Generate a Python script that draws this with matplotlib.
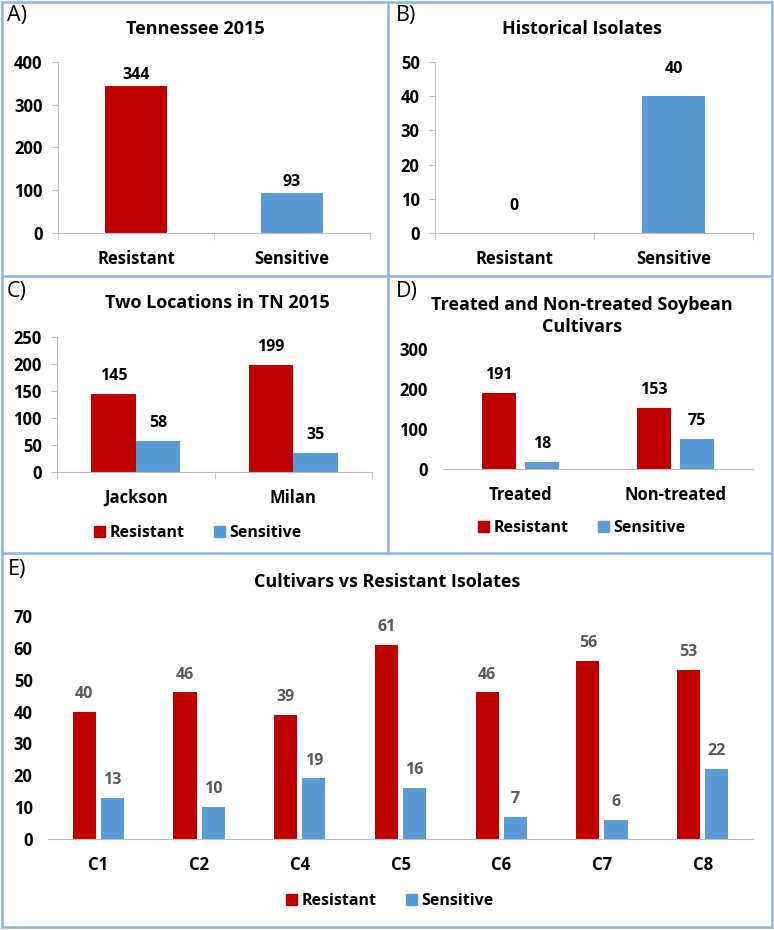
import numpy as np
import matplotlib
matplotlib.use("Agg")
import matplotlib.pyplot as plt
from matplotlib.lines import Line2D
from matplotlib.patches import Patch

plt.rcParams["font.family"] = ["Open Sans", "DejaVu Sans"]

# data
a_cats = ["Resistant", "Sensitive"]
a_vals = [344, 93]

b_cats = ["Resistant", "Sensitive"]
b_vals = [0, 40]

c_cats = ["Jackson", "Milan"]
c_res = [145, 199]
c_sen = [58, 35]

d_cats = ["Treated", "Non-treated"]
d_res = [191, 153]
d_sen = [18, 75]

e_cats = ["C1", "C2", "C4", "C5", "C6", "C7", "C8"]
e_res = [40, 46, 39, 61, 46, 56, 53]
e_sen = [13, 10, 19, 16, 7, 6, 22]

RED = "#C00000"
BLUE = "#5B9BD5"
AXC = "#BFBFBF"
BORDER = "#8EB4E3"
FS = 11.5

W, H = 774, 930
fig = plt.figure(figsize=(W / 100, H / 100), dpi=100)


def rect(l, r, t, b):
    return [l / W, 1 - b / H, (r - l) / W, (b - t) / H]


def fx(x):
    return x / W


def fy(y):
    return 1 - y / H


def style(ax, ylim, step, yaxis=True, xticks=True):
    ax.set_ylim(0, ylim)
    ax.set_yticks(np.arange(0, ylim + 1, step))
    for s in ["top", "right"]:
        ax.spines[s].set_visible(False)
    ax.spines["bottom"].set_color(AXC)
    ax.spines["left"].set_color(AXC)
    ax.spines["left"].set_visible(yaxis)
    ax.tick_params(axis="y", length=4 if yaxis else 0, color=AXC, pad=7 if yaxis else 11)
    ax.tick_params(axis="x", length=0, pad=12)
    for lab in ax.get_yticklabels() + ax.get_xticklabels():
        lab.set_fontweight("bold")
        lab.set_fontsize(12)
    if xticks:
        n = len(ax.get_xticks())
        ax.set_xticks(np.arange(-0.5, n, 1.0), minor=True)
        ax.tick_params(axis="x", which="minor", length=5, color=AXC)


def labels(ax, bars, color="black", off=4):
    for b in bars:
        ax.annotate(f"{int(b.get_height())}", (b.get_x() + b.get_width() / 2, b.get_height()),
                    xytext=(0, off), textcoords="offset points", ha="center", va="bottom",
                    fontsize=FS, fontweight="bold", color=color)


def legend(x, y):
    h = [Patch(color=RED), Patch(color=BLUE)]
    fig.legend(h, ["Resistant", "Sensitive"], loc="center", bbox_to_anchor=(fx(x), fy(y)),
               ncol=2, frameon=False, handlelength=0.7, handleheight=0.7, handletextpad=0.3,
               columnspacing=1.8, prop={"size": FS, "weight": "bold"})


def title(x, y, s):
    fig.text(fx(x), fy(y), s, ha="center", va="center", fontsize=13, fontweight="bold",
             linespacing=1.25)


# A
ax = fig.add_axes(rect(58, 370, 62, 233))
x = np.arange(len(a_cats))
bars = ax.bar(x, a_vals, 0.4, color=[RED, BLUE])
ax.set_xticks(x, a_cats)
ax.set_xlim(-0.5, 1.5)
style(ax, 400, 100)
labels(ax, bars, off=2)
title(195, 29, "Tennessee 2015")

# B
ax = fig.add_axes(rect(435, 753, 62, 233))
x = np.arange(len(b_cats))
bars = ax.bar(x, b_vals, 0.4, color=[RED, BLUE])
ax.set_xticks(x, b_cats)
ax.set_xlim(-0.5, 1.5)
style(ax, 50, 10)
labels(ax, bars, off=14)
title(582, 29, "Historical Isolates")

# C
ax = fig.add_axes(rect(57, 372, 337, 472))
x = np.arange(len(c_cats))
b1 = ax.bar(x - 0.1415, c_res, 0.283, color=RED)
b2 = ax.bar(x + 0.1415, c_sen, 0.283, color=BLUE)
ax.set_xticks(x, c_cats)
ax.set_xlim(-0.5, 1.5)
style(ax, 250, 50)
labels(ax, b1, off=7)
labels(ax, b2, off=7)
title(217, 303, "Two Locations in TN 2015")
legend(198, 533)

# D
ax = fig.add_axes(rect(443, 753, 349, 469))
x = np.arange(len(d_cats))
b1 = ax.bar(x - 0.14, d_res, 0.22, color=RED)
b2 = ax.bar(x + 0.14, d_sen, 0.22, color=BLUE)
ax.set_xticks(x, d_cats)
ax.set_xlim(-0.5, 1.5)
style(ax, 300, 100, yaxis=False, xticks=False)
labels(ax, b1, off=7)
labels(ax, b2, off=7)
title(582, 316, "Treated and Non-treated Soybean\nCultivars")
legend(582, 528)

# E
ax = fig.add_axes(rect(48, 753, 616, 839))
x = np.arange(len(e_cats))
b1 = ax.bar(x - 0.14, e_res, 0.23, color=RED)
b2 = ax.bar(x + 0.14, e_sen, 0.23, color=BLUE)
ax.set_xticks(x, e_cats)
ax.set_xlim(-0.5, len(e_cats) - 0.5)
style(ax, 70, 10, yaxis=False, xticks=False)
labels(ax, b1, color="#595959", off=7)
labels(ax, b2, color="#595959", off=7)
title(387, 582, "Cultivars vs Resistant Isolates")
legend(390, 901)

# panel letters
for lab, px, py in [("A)", 7, 15), ("B)", 396, 15), ("C)", 7, 292), ("D)", 396, 292), ("E)", 8, 570)]:
    fig.text(fx(px), fy(py), lab, ha="left", va="center", fontsize=15.5)

# panel borders
for xs, ys in [([2, 772], [2, 2]), ([2, 772], [927, 927]), ([2, 2], [2, 927]), ([772, 772], [2, 927]),
               ([2, 772], [276, 276]), ([2, 772], [553, 553]), ([388, 388], [2, 553])]:
    fig.add_artist(Line2D([fx(v) for v in xs], [fy(v) for v in ys], color=BORDER, lw=1.8))

fig.savefig("out.png", dpi=100)
